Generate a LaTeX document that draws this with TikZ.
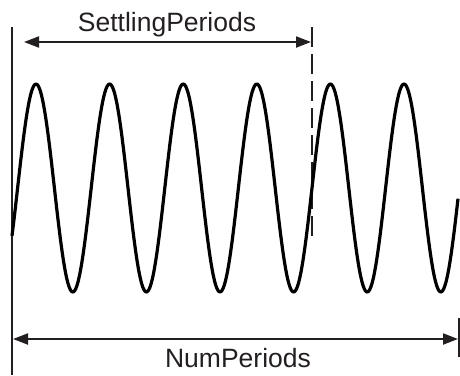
\documentclass[tikz,border=0pt]{standalone}
\usepackage{fontspec}
\setmainfont{Liberation Sans}
\usetikzlibrary{arrows.meta}
\definecolor{ink}{RGB}{35,31,32}
\tikzset{
  dimarrow/.style={draw=ink,line width=2pt,{Triangle[length=15pt,width=11pt]}-{Triangle[length=15pt,width=11pt]}},
  bar/.style={draw=ink,line width=2.2pt},
  dashbar/.style={draw=ink,line width=2.2pt,dash pattern=on 20pt off 7pt},
  wave/.style={line width=3.2pt,line join=round},
  lbl/.style={text=ink,font=\fontsize{26.5}{30}\selectfont,inner sep=0pt,anchor=base}
}
\begin{document}
\begin{tikzpicture}[x=1pt,y=-1pt]
\useasboundingbox (0,0) rectangle (460,375);
\coordinate (Ltop) at (12,27);
\coordinate (Lbot) at (12,375);
\coordinate (Dtop) at (312,27);
\coordinate (Dbot) at (312,240);
\coordinate (Rtop) at (459,318);
\coordinate (Rbot) at (459,357);
\coordinate (SA) at (24,42);
\coordinate (SB) at (311,42);
\coordinate (NA) at (13,339);
\coordinate (NB) at (458,339);
\draw[bar] (Ltop) -- (Lbot);
\draw[dashbar] (Dtop) -- (Dbot);
\draw[bar] (Rtop) -- (Rbot);
\draw[dimarrow] (SA) -- (SB);
\draw[dimarrow] (NA) -- (NB);
\node[lbl] (settle) at (167,31) {SettlingPeriods};
\node[lbl] (num) at (238,367) {NumPeriods};
\draw[wave] plot[domain=12:458,samples=400,smooth] (\x,{188-104*cos((\x-36)/73.6*360)});
\end{tikzpicture}
\end{document}
